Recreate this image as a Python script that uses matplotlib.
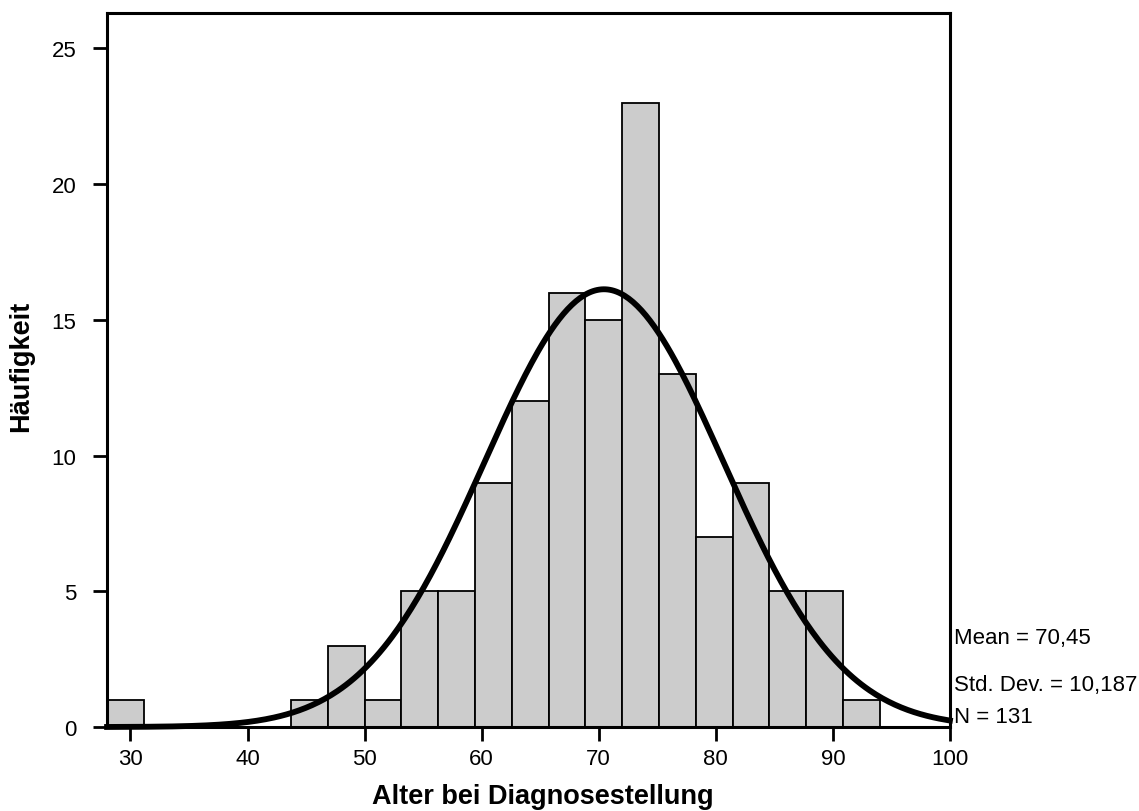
import numpy as np
from matplotlib import pyplot as plt
import matplotlib.transforms as transforms

plt.rcParams['font.family'] = ['Liberation Sans', 'DejaVu Sans']

# histogram of age at diagnosis (21 bins from 28 to 94)
bin_start = 28.0
bin_end = 94.0
counts = [1, 0, 0, 0, 0, 1, 3, 1, 5, 5, 9, 12, 16, 15, 23, 13, 7, 9, 5, 5, 1]
mean = 70.45
std = 10.187
n = 131

edges = np.linspace(bin_start, bin_end, len(counts) + 1)
width = edges[1] - edges[0]

fig = plt.figure(figsize=(11.39, 8.12), dpi=100)
ax = fig.add_axes([0.094, 0.1034, 0.74, 0.8794])

ax.bar(edges[:-1], counts, width=width, align='edge', color='#cccccc',
       edgecolor='black', linewidth=1.3, zorder=2)

xs = np.linspace(28, 100, 400)
ys = n * width / (std * np.sqrt(2 * np.pi)) * np.exp(-0.5 * ((xs - mean) / std) ** 2)
ax.plot(xs, ys, color='black', linewidth=4.2, zorder=3, clip_on=False)

ax.set_xlim(28, 100)
ax.set_ylim(0, 26.3)
ax.set_xticks([30, 40, 50, 60, 70, 80, 90, 100])
ax.set_yticks([0, 5, 10, 15, 20, 25])
for s in ax.spines.values():
    s.set_linewidth(2.2)
ax.tick_params(direction='out', length=10, width=2.0, labelsize=16)
ax.tick_params(axis='x', pad=5)
ax.tick_params(axis='y', pad=12)

ax.set_xlabel('Alter bei Diagnosestellung', fontsize=19.5, fontweight='bold')
ax.set_ylabel('Häufigkeit', fontsize=19.5, fontweight='bold')
ax.xaxis.set_label_coords(0.517, -0.079)
ax.yaxis.set_label_coords(-0.086, 0.507)

trans = transforms.blended_transform_factory(ax.transAxes, ax.transData)
ax.text(1.005, 3.3, 'Mean = 70,45', transform=trans, fontsize=16, va='center', ha='left')
ax.text(1.005, 1.55, 'Std. Dev. = 10,187', transform=trans, fontsize=16, va='center', ha='left')
ax.text(1.005, 0.37, 'N = 131', transform=trans, fontsize=16, va='center', ha='left')

fig.savefig('out.png', dpi=100)
